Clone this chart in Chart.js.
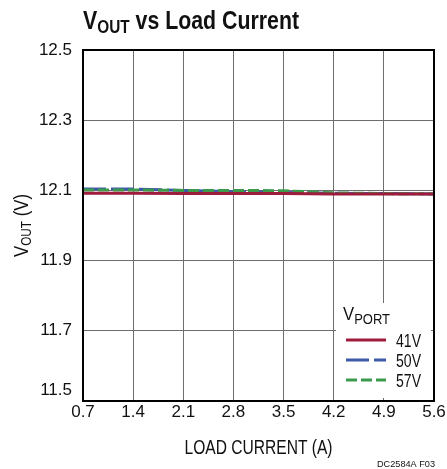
<!DOCTYPE html>
<html lang="en">
<head>
  <meta charset="UTF-8" />
  <title>VOUT vs Load Current</title>
  <script src="https://cdn.jsdelivr.net/npm/chart.js"></script>
  <style>
    body {
      margin: 0;
      background: #fff;
    }
    .wrap {
      position: relative;
      width: 447px;
      height: 469px;
    }
  </style>
</head>
<body>
  <div class="wrap"><canvas id="vout"></canvas></div>

  <script>
    const FONT = "'Liberation Sans', Arial, sans-serif";

    // load current (A)
    const current = [0.7, 1.4, 2.1, 2.8, 3.5, 4.2, 4.9, 5.6];
    // VOUT per VPORT
    const v41 = [12.092, 12.092, 12.091, 12.091, 12.091, 12.090, 12.090, 12.090];
    const v50 = [12.104, 12.104, 12.100, 12.096, 12.094, 12.092, 12.091, 12.090];
    const v57 = [12.101, 12.101, 12.100, 12.100, 12.099, 12.093, 12.091, 12.090];
    const portLabels = ['41V', '50V', '57V'];
    const xTicks = [0.7, 1.4, 2.1, 2.8, 3.5, 4.2, 4.9, 5.6];
    const yTicks = [11.5, 11.7, 11.9, 12.1, 12.3, 12.5];

    const RED = '#9e1b3c', BLUE = '#3d5aa8', GREEN = '#3b9a4c';

    function pts(ys) {
      return current.map((x, i) => ({ x: x, y: ys[i] }));
    }

    // text in pieces: [str, size, dy]; squeezed to fit width w (condensed look)
    function pieces(ctx, x, y, parts, bold, w, align) {
      const b = bold ? 'bold ' : '';
      let nat = 0;
      parts.forEach(p => { ctx.font = b + p[1] + 'px ' + FONT; nat += ctx.measureText(p[0]).width; });
      const sx = w / nat;
      ctx.save();
      const x0 = align === 'center' ? x - w / 2 : align === 'right' ? x - w : x;
      ctx.translate(x0, y);
      ctx.scale(sx, 1);
      ctx.textAlign = 'left';
      let cx = 0;
      parts.forEach(p => {
        ctx.font = b + p[1] + 'px ' + FONT;
        ctx.fillText(p[0], cx, p[2] || 0);
        cx += ctx.measureText(p[0]).width;
      });
      ctx.restore();
    }

    const decor = {
      id: 'decor',
      afterDatasetsDraw(chart) {
        const ctx = chart.ctx;
        const a = chart.chartArea;
        ctx.save();

        // legend box
        ctx.fillStyle = '#fff';
        ctx.fillRect(336, 303, a.right - 3 - 336, a.bottom - 3 - 303);
        ctx.fillStyle = '#111';
        ctx.textBaseline = 'alphabetic';
        pieces(ctx, 343, 320, [['V', 18], ['PORT', 14, 4]], false, 47);
        const cols = [RED, BLUE, GREEN];
        const dashes = [[], [23, 5], [11, 4]];
        portLabels.forEach((lab, i) => {
          const y = 340 + i * 20;
          ctx.strokeStyle = cols[i];
          ctx.lineWidth = 3;
          ctx.setLineDash(dashes[i]);
          ctx.beginPath();
          ctx.moveTo(346, y);
          ctx.lineTo(386, y);
          ctx.stroke();
          ctx.setLineDash([]);
          pieces(ctx, 396, y + 7, [[lab, 18]], false, 25);
        });

        // frame
        ctx.strokeStyle = '#000';
        ctx.lineWidth = 2;
        ctx.strokeRect(a.left, a.top, a.right - a.left, a.bottom - a.top);

        // titles
        ctx.fillStyle = '#111';
        pieces(ctx, 83, 29, [['V', 25], ['OUT', 18, 4], [' vs Load Current', 25]], true, 216);
        pieces(ctx, (a.left + a.right) / 2, 454, [['LOAD CURRENT (A)', 20]], false, 148, 'center');
        pieces(ctx, 435, 467, [['DC2584A F03', 9]], false, 58, 'right');

        // y title, rotated
        ctx.translate(28, (a.top + a.bottom) / 2);
        ctx.rotate(-Math.PI / 2);
        pieces(ctx, 0, 0, [['V', 20], ['OUT', 14, 3], [' (V)', 20]], false, 63, 'center');
        ctx.restore();
      }
    };

    new Chart(document.getElementById('vout'), {
      type: 'line',
      data: {
        datasets: [
          { label: portLabels[0], data: pts(v41), borderColor: RED, borderWidth: 3, order: 0 },
          { label: portLabels[1], data: pts(v50), borderColor: BLUE, borderWidth: 3, borderDash: [23, 5], order: 2 },
          { label: portLabels[2], data: pts(v57), borderColor: GREEN, borderWidth: 3, borderDash: [11, 4], order: 1 }
        ]
      },
      options: {
        responsive: true,
        maintainAspectRatio: false,
        animation: false,
        layout: { padding: { top: 50, right: 13, left: 0, bottom: 0 } },
        elements: { point: { radius: 0 }, line: { tension: 0 } },
        plugins: { legend: { display: false }, tooltip: { enabled: false } },
        scales: {
          x: {
            type: 'linear',
            min: 0.7,
            max: 5.6,
            afterBuildTicks: s => { s.ticks = xTicks.map(v => ({ value: v })); },
            afterFit: s => { s.height = 68; },
            grid: { color: '#6e6e6e', lineWidth: 1, drawTicks: false },
            border: { color: '#000', width: 2 },
            ticks: {
              padding: 1,
              color: '#111',
              font: { family: FONT, size: 17 },
              callback: v => v.toFixed(1)
            }
          },
          y: {
            min: 11.5,
            max: 12.5,
            afterBuildTicks: s => { s.ticks = yTicks.map(v => ({ value: v })); },
            afterFit: s => { s.width = 83; },
            grid: { color: '#6e6e6e', lineWidth: 1, drawTicks: false },
            border: { color: '#000', width: 2 },
            ticks: {
              padding: 11,
              color: '#111',
              font: { family: FONT, size: 17 },
              callback: v => v === 11.5 ? ['11.5', ''] : v.toFixed(1)
            }
          }
        }
      },
      plugins: [decor]
    });
  </script>
</body>
</html>
